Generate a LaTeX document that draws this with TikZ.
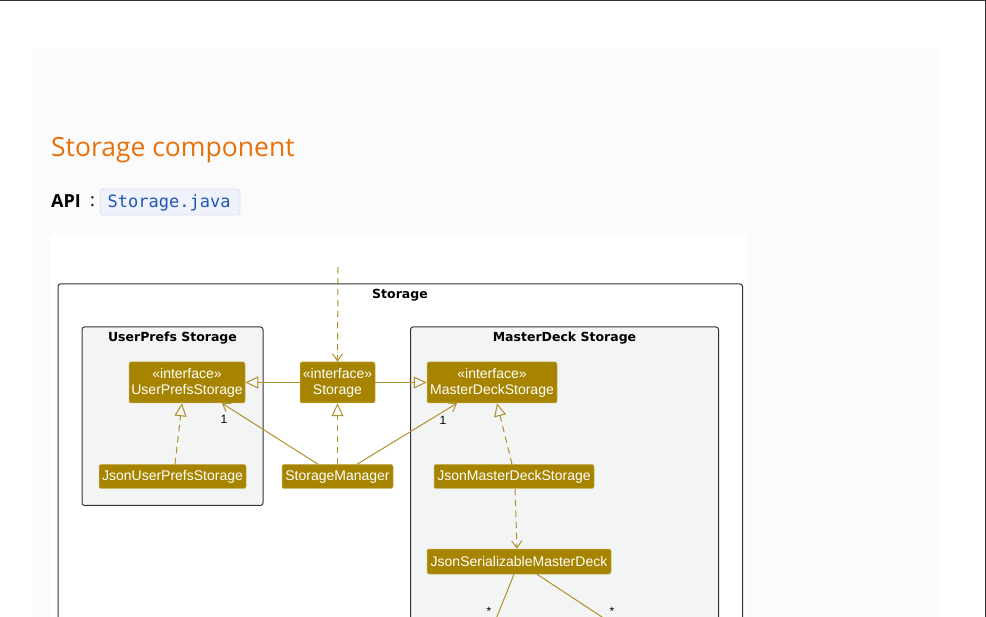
\documentclass[tikz,border=0pt]{standalone}
\usepackage{fontspec}
\setmainfont{Liberation Sans}
\newfontfamily\headfont{Open Sans}
\newfontfamily\pkgfont{DejaVu Sans}
\newfontfamily\codefont{DejaVu Sans Mono}
\usetikzlibrary{arrows.meta,calc}
\definecolor{gold}{RGB}{166,132,0}
\definecolor{goldborder}{RGB}{200,176,90}
\definecolor{edgec}{RGB}{175,145,45}
\definecolor{pkgfill}{RGB}{243,244,244}
\definecolor{pkgline}{RGB}{51,51,51}
\definecolor{panel}{RGB}{251,251,251}
\definecolor{headorange}{RGB}{232,113,10}
\definecolor{codeblue}{RGB}{28,88,178}
\definecolor{codebg}{RGB}{239,241,251}
\definecolor{codeline}{RGB}{221,224,240}
\tikzset{
  cls/.style={draw=goldborder, line width=0.5pt, fill=gold, text=white, rounded corners=2pt,
    inner sep=0pt, align=center, font=\fontsize{14}{16}\selectfont},
  one/.style={text height=10.5pt, text depth=1.5pt},
  pkg/.style={draw=pkgline, line width=1pt, fill=pkgfill, rounded corners=2.5pt},
  pkgtitle/.style={font=\pkgfont\bfseries\fontsize{12.5}{14}\selectfont, text=black, inner sep=0pt},
  edge/.style={draw=edgec, line width=1pt},
  dep/.style={edge, dash pattern=on 6.5pt off 4.5pt},
  opentip/.style={-{Straight Barb[length=7pt,width=10pt,line width=1pt]}},
  gentip/.style={-{Triangle[open,length=13pt,width=12pt,line width=1pt]}},
  mult/.style={font=\fontsize{12}{14}\selectfont, text=black, inner sep=0pt}
}
\begin{document}
\begin{tikzpicture}[x=1pt,y=-1pt]
\useasboundingbox (0,0) rectangle (986,617);
% page background
\fill[white] (0,0) rectangle (986,617);
\fill[panel] (32,48) rectangle (940,617);
\draw[pkgline, line width=1.2pt] (0,0.6) -- (985.4,0.6) -- (985.4,617);
% heading
\node[anchor=base west, inner sep=0pt, text=headorange, font=\headfont\fontsize{26.5}{30}\selectfont] (title) at (51,157) {Storage component};
\node[anchor=base west, inner sep=0pt, font=\headfont\bfseries\fontsize{18}{20}\selectfont] (api) at (51,208) {API};
\node[anchor=base west, inner sep=0pt, font=\headfont\fontsize{18}{20}\selectfont] (colon) at (90,207) {:};
\draw[codeline, fill=codebg, line width=0.8pt, rounded corners=3pt] (100,189) rectangle (240,215);
\node[anchor=base west, inner sep=0pt, text=codeblue, font=\codefont\fontsize{17}{20}\selectfont] (code) at (107.5,208) {Storage.java};
% diagram image area
\fill[white] (50,235) rectangle (747,617);
% outer package
\draw[pkgline, line width=1pt, fill=white, rounded corners=2.5pt] (58,630) -- (58,284) -- (742.5,284) -- (742.5,630);
\node[pkgtitle] (storagetitle) at (400,295.5) {Storage};
% sub packages
\draw[pkg] (82,327) rectangle (263,505.5);
\node[pkgtitle] (uptitle) at (172.5,338) {UserPrefs Storage};
\draw[pkg] (410.5,630) -- (410.5,327) -- (718.5,327) -- (718.5,630);
\node[pkgtitle] (mdtitle) at (564.5,338) {MasterDeck Storage};
% classes
\node[cls, minimum width=116pt, minimum height=41pt] (UPS) at (187,382.5) {«interface»\\UserPrefsStorage};
\node[cls, minimum width=75pt, minimum height=41pt] (St) at (337.5,382.5) {«interface»\\Storage};
\node[cls, minimum width=130pt, minimum height=41pt] (MDS) at (492,382.5) {«interface»\\MasterDeckStorage};
\node[cls, one, minimum width=147pt, minimum height=24pt] (JUPS) at (172.5,476.5) {JsonUserPrefsStorage};
\node[cls, one, minimum width=111pt, minimum height=24pt] (SM) at (337.5,476.5) {StorageManager};
\node[cls, one, minimum width=160pt, minimum height=24pt] (JMDS) at (514,476.5) {JsonMasterDeckStorage};
\node[cls, one, minimum width=184pt, minimum height=25pt] (JSMD) at (519,561.5) {JsonSerializableMasterDeck};
% free ends
\coordinate (entry) at (338,267);
\coordinate (bl) at (496,619);
\coordinate (br) at (605,619);
% edges
\draw[dep, opentip] (entry) -- (St.north);
\draw[edge, gentip] (St.west) -- (UPS.east);
\draw[edge, gentip] (St.east) -- (MDS.west);
\draw[dep, gentip] (SM.north) -- (St.south);
\draw[edge, opentip] ($(SM.north)+(-19.5,0)$) -- ($(UPS.south)+(35,0)$);
\draw[edge, opentip] ($(SM.north)+(19.5,0)$) -- ($(MDS.south)+(-35,0)$);
\draw[dep, gentip] ($(JUPS.north)+(2.5,0)$) -- ($(UPS.south)+(-5,0)$);
\draw[dep, gentip] ($(JMDS.north)+(-2,0)$) -- ($(MDS.south)+(5,0)$);
\draw[dep, opentip] ($(JMDS.south)+(1,0)$) -- ($(JSMD.north)+(-2,0)$);
\draw[edge] ($(JSMD.south)+(-5,0)$) -- (bl);
\draw[edge] ($(JSMD.south)+(18,0)$) -- (br);
% multiplicities
\node[mult] (m1) at (224,419.5) {1};
\node[mult] (m2) at (443,420) {1};
\node[mult] (m3) at (489,611) {*};
\node[mult] (m4) at (612,611) {*};
\end{tikzpicture}
\end{document}
